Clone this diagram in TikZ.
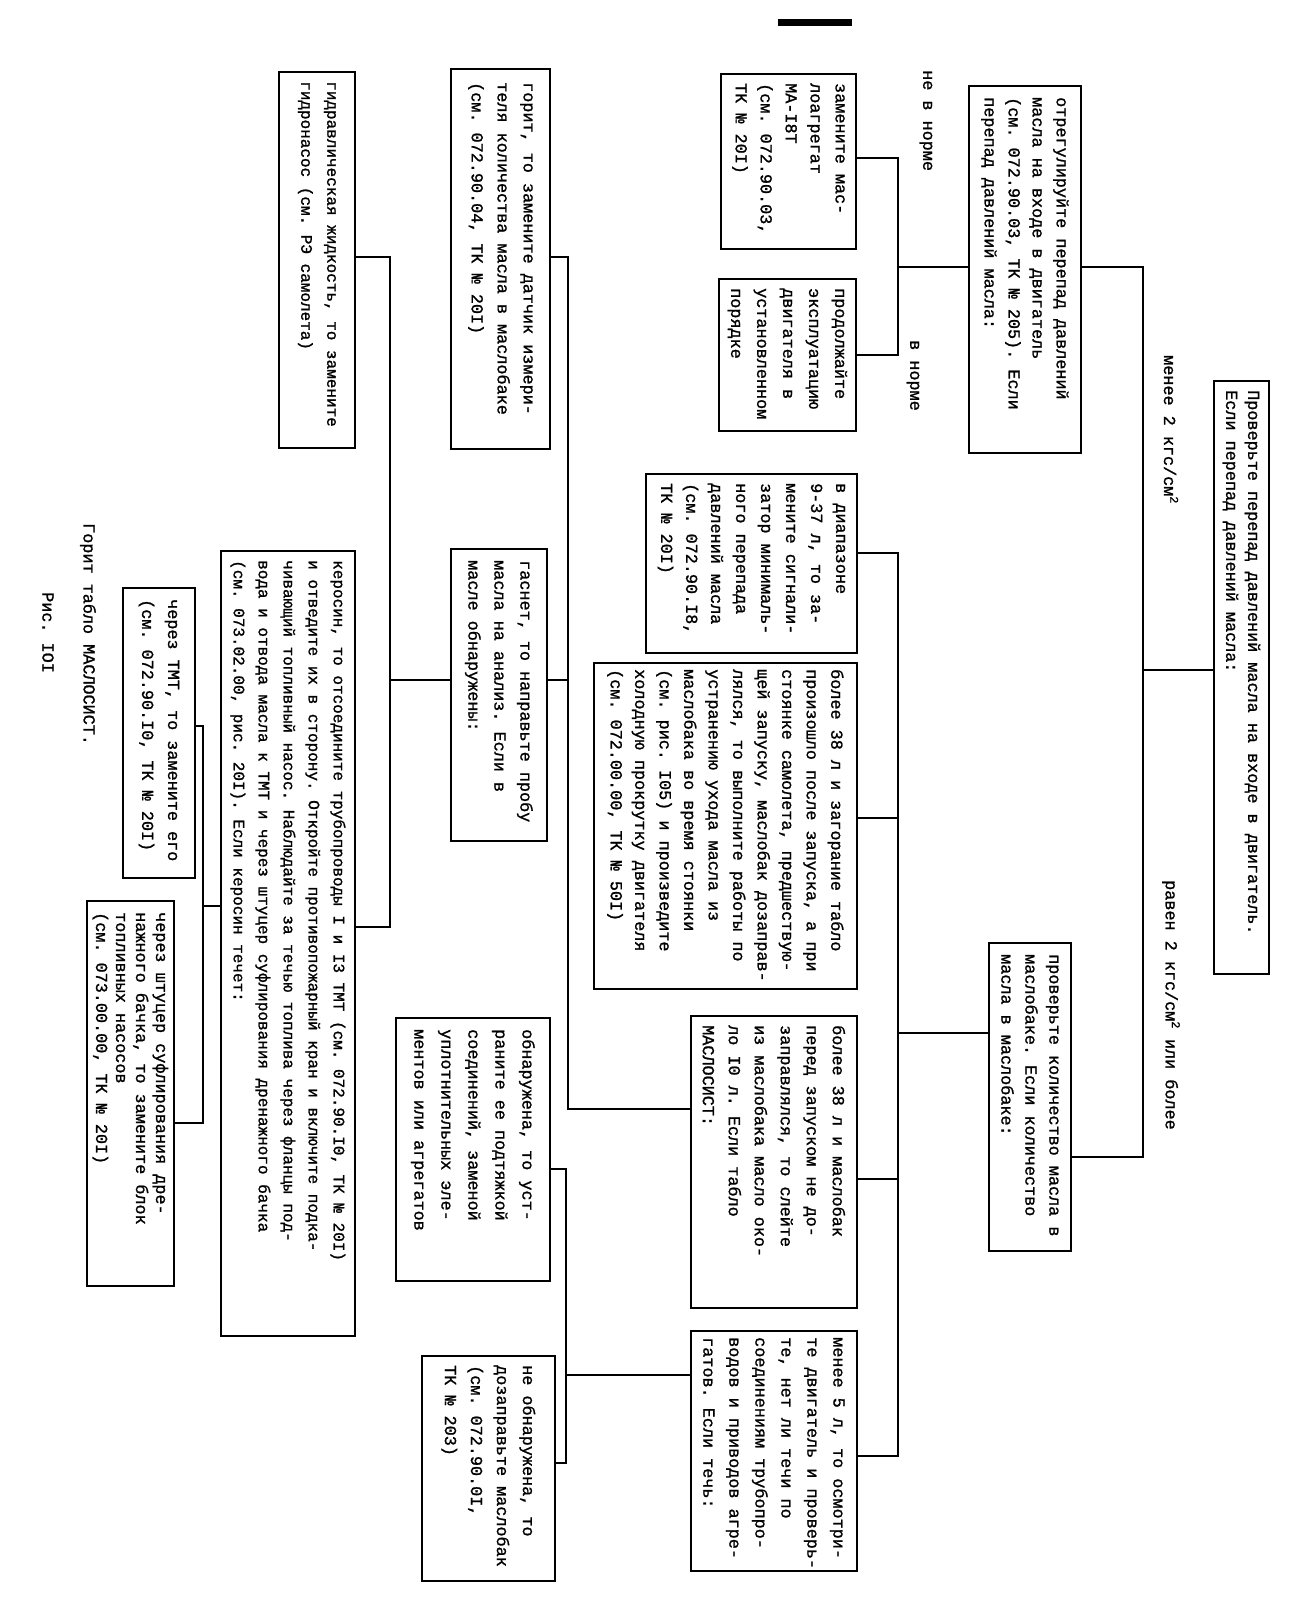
\documentclass[tikz,border=0pt]{standalone}
\usepackage{fontspec}
\newfontfamily\tw{Liberation Mono}[FakeBold=1.2]
\begin{document}
\frenchspacing
\begin{tikzpicture}[x=1pt,y=-1pt,
  bx/.style={draw, line width=2.2pt, anchor=north east, inner sep=0pt},
  txt/.style={rotate=-90, anchor=west, align=left, inner sep=0pt, font=\tw\frenchspacing\fontsize{16.8}{#1}\selectfont},
  stxt/.style={rotate=-90, anchor=west, align=left, inner sep=0pt, font=\tw\frenchspacing\fontsize{16}{#1}\selectfont},
  lab/.style={rotate=-90, anchor=west, inner sep=0pt, font=\tw\frenchspacing\fontsize{16.8}{20}\selectfont},
  con/.style={line width=2.2pt}]
\useasboundingbox (0,0) rectangle (1311,1615);
\fill (778,19) rectangle (852,26);
% boxes
\node[bx, minimum width=55pt, minimum height=593pt] (topbox) at (1270,380) {};
\node[txt=22] (topbox-t) at ([yshift=-10pt]topbox.north) {Проверьте перепад давлений масла на входе в двигатель.\\Если перепад давлений масла:};
\node[bx, minimum width=112pt, minimum height=367pt] (regul) at (1082,85) {};
\node[txt=24] (regul-t) at ([yshift=-12pt]regul.north) {отрегулируйте перепад давлений\\масла на входе в двигатель\\(см. 072.90.03, ТК № 205). Если\\перепад давлений масла:};
\node[bx, minimum width=135pt, minimum height=175pt] (zamen) at (857,73) {};
\node[txt=25] (zamen-t) at ([yshift=-10pt]zamen.north) {замените мас-\\лоагрегат\\МА-I8Т\\(см. 072.90.03,\\ТК № 20I)};
\node[bx, minimum width=137pt, minimum height=152pt] (prodol) at (857,278) {};
\node[txt=26] (prodol-t) at ([yshift=-10pt]prodol.north) {продолжайте\\эксплуатацию\\двигателя в\\установленном\\порядке};
\node[bx, minimum width=211pt, minimum height=179pt] (diap) at (858,473) {};
\node[txt=25] (diap-t) at ([yshift=-10pt]diap.north) {в диапазоне\\9-37 л, то за-\\мените сигнали-\\затор минималь-\\ного перепада\\давлений масла\\(см. 072.90.I8,\\ТК № 20I)};
\node[bx, minimum width=263pt, minimum height=326pt] (zagor) at (858,662) {};
\node[txt=24.5] (zagor-t) at ([yshift=-7pt]zagor.north) {более 38 л и загорание табло\\произошло после запуска, а при\\стоянке самолета, предшествую-\\щей запуску, маслобак дозаправ-\\лялся, то выполните работы по\\устранению ухода масла из\\маслобака во время стоянки\\(см. рис. I05) и произведите\\холодную прокрутку двигателя\\(см. 072.00.00, ТК № 50I)};
\node[bx, minimum width=166pt, minimum height=292pt] (maslo) at (858,1015) {};
\node[txt=26] (maslo-t) at ([yshift=-10pt]maslo.north) {более 38 л и маслобак\\перед запуском не до-\\заправлялся, то слейте\\из маслобака масло око-\\ло I0 л. Если табло\\МАСЛОСИСТ:};
\node[bx, minimum width=166pt, minimum height=240pt] (menee) at (858,1330) {};
\node[txt=26] (menee-t) at ([yshift=-7pt]menee.north) {менее 5 л, то осмотри-\\те двигатель и проверь-\\те, нет ли течи по\\соединениям трубопро-\\водов и приводов агре-\\гатов. Если течь:};
\node[bx, minimum width=82pt, minimum height=308pt] (prov) at (1072,942) {};
\node[txt=24] (prov-t) at ([yshift=-12pt]prov.north) {проверьте количество масла в\\маслобаке. Если количество\\масла в маслобаке:};
\node[bx, minimum width=99pt, minimum height=380pt] (gorit) at (551,68) {};
\node[txt=26] (gorit-t) at ([yshift=-14pt]gorit.north) {горит, то замените датчик измери-\\теля количества масла в маслобаке\\(см. 072.90.04, ТК № 20I)};
\node[bx, minimum width=96pt, minimum height=292pt] (gasnet) at (548,548) {};
\node[txt=26] (gasnet-t) at ([yshift=-12pt]gasnet.north) {гаснет, то направьте пробу\\масла на анализ. Если в\\масле обнаружены:};
\node[bx, minimum width=76pt, minimum height=376pt] (gidr) at (356,71) {};
\node[stxt=26] (gidr-t) at ([yshift=-10pt]gidr.north) {гидравлическая жидкость, то замените\\гидронасос (см. РЭ самолета)};
\node[bx, minimum width=134pt, minimum height=785pt] (kero) at (356,550) {};
\node[stxt=25] (kero-t) at ([yshift=-10pt]kero.north) {керосин, то отсоедините трубопроводы I и I3 ТМТ (см. 072.90.I0, ТК № 20I)\\и отведите их в сторону. Откройте противопожарный кран и включите подка-\\чивающий топливный насос. Наблюдайте за течью топлива через фланцы под-\\вода и отвода масла к ТМТ и через штуцер суфлирования дренажного бачка\\(см. 073.02.00, рис. 20I). Если керосин течет:};
\node[bx, minimum width=72pt, minimum height=290pt] (tmt) at (196,587) {};
\node[txt=26] (tmt-t) at ([yshift=-12pt]tmt.north) {через ТМТ, то замените его\\(см. 072.90.I0, ТК № 20I)};
\node[bx, minimum width=87pt, minimum height=385pt] (shtuc) at (175,900) {};
\node[txt=20] (shtuc-t) at ([yshift=-12pt]shtuc.north) {через штуцер суфлирования дре-\\нажного бачка, то замените блок\\топливных насосов\\(см. 073.00.00, ТК № 20I)};
\node[bx, minimum width=154pt, minimum height=263pt] (obnar) at (551,1017) {};
\node[txt=27] (obnar-t) at ([yshift=-12pt]obnar.north) {обнаружена, то уст-\\раните ее подтяжкой\\соединений, заменой\\уплотнительных эле-\\ментов или агрегатов};
\node[bx, minimum width=133pt, minimum height=225pt] (neobn) at (556,1355) {};
\node[txt=26] (neobn-t) at ([yshift=-10pt]neobn.north) {не обнаружена, то\\дозаправьте маслобак\\(см. 072.90.0I,\\ТК № 203)};
% labels
\node[lab] (l-menee) at (1171,355) {менее 2 кгс/см\textsuperscript{2}};
\node[lab] (l-raven) at (1171,880) {равен 2 кгс/см\textsuperscript{2} или более};
\node[lab] (l-nevn) at (926,70) {не в норме};
\node[lab] (l-vn) at (913,340) {в норме};
\node[lab] (cap1) at (88,523) {Горит табло МАСЛОСИСТ.};
\node[lab] (cap2) at (48,592) {Рис. IOI};
% connectors
\coordinate (a1) at (1143,267); \coordinate (a2) at (1143,670); \coordinate (a3) at (1143,1157);
\draw[con] (a1 -| regul.east) -- (a1) -- (a3) -- (a3 -| prov.east);
\draw[con] (a2) -- (a2 -| topbox.west);
\coordinate (b1) at (898,158); \coordinate (b2) at (898,267); \coordinate (b3) at (898,355);
\draw[con] (b2 -| regul.west) -- (b2);
\draw[con] (b1 -| zamen.east) -- (b1) -- (b3) -- (b3 -| prodol.east);
\coordinate (c1) at (898,553); \coordinate (c2) at (898,818); \coordinate (c3) at (898,1033);
\coordinate (c4) at (898,1179); \coordinate (c5) at (898,1456);
\draw[con] (c1 -| diap.east) -- (c1) -- (c5) -- (c5 -| menee.east);
\draw[con] (c2) -- (c2 -| zagor.east);
\draw[con] (c3) -- (c3 -| prov.west);
\draw[con] (c4) -- (c4 -| maslo.east);
\coordinate (d1) at (568,257); \coordinate (d2) at (568,680); \coordinate (d3) at (568,1109);
\draw[con] (d1 -| gorit.east) -- (d1) -- (d3) -- (d3 -| maslo.west);
\draw[con] (d2) -- (d2 -| gasnet.east);
\coordinate (e1) at (390,257); \coordinate (e2) at (390,680); \coordinate (e3) at (390,927);
\draw[con] (e1 -| gidr.east) -- (e1) -- (e3) -- (e3 -| kero.east);
\draw[con] (e2) -- (e2 -| gasnet.west);
\coordinate (f1) at (203,726); \coordinate (f2) at (203,906); \coordinate (f3) at (203,1123);
\draw[con] (f1 -| tmt.east) -- (f1) -- (f3) -- (f3 -| shtuc.east);
\draw[con] (f2) -- (f2 -| kero.west);
\coordinate (g1) at (566,1169); \coordinate (g2) at (566,1375); \coordinate (g3) at (566,1463);
\draw[con] (g1 -| obnar.east) -- (g1) -- (g3) -- (g3 -| neobn.east);
\draw[con] (g2) -- (g2 -| menee.west);
\end{tikzpicture}
\end{document}
